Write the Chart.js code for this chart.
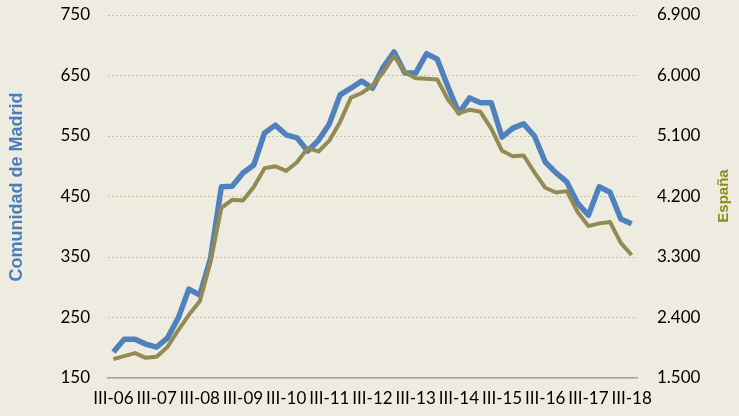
<!DOCTYPE html>
<html>
<head>
<meta charset="utf-8">
<script src="https://cdn.jsdelivr.net/npm/chart.js@4"></script>
<style>
  html, body { margin: 0; padding: 0; background: #eeece1; }
  canvas { display: block; }
</style>
</head>
<body>
<canvas id="myChart" width="739" height="416"></canvas>
<script>
const quarters = [
  'III-06','IV-06','I-07','II-07','III-07','IV-07','I-08','II-08','III-08','IV-08',
  'I-09','II-09','III-09','IV-09','I-10','II-10','III-10','IV-10','I-11','II-11',
  'III-11','IV-11','I-12','II-12','III-12','IV-12','I-13','II-13','III-13','IV-13',
  'I-14','II-14','III-14','IV-14','I-15','II-15','III-15','IV-15','I-16','II-16',
  'III-16','IV-16','I-17','II-17','III-17','IV-17','I-18','II-18','III-18'
];
// Comunidad de Madrid (left axis)
const madrid = [
  193, 214, 214, 206, 201, 216, 249, 297, 287, 348,
  466, 467, 489, 502, 555, 568, 552, 547, 525, 543,
  570, 618, 629, 641, 629, 664, 689, 654, 654, 686,
  677, 631, 588, 613, 605, 605, 548, 563, 570, 550,
  507, 489, 474, 439, 419, 466, 457, 413, 405
];
// España (right axis)
const espana = [
  1780, 1825, 1870, 1800, 1815, 1960, 2210, 2440, 2640, 3230,
  4030, 4150, 4140, 4340, 4620, 4650, 4580, 4710, 4920, 4870,
  5030, 5310, 5670, 5740, 5850, 6050, 6290, 6050, 5960, 5950,
  5940, 5640, 5440, 5490, 5460, 5210, 4880, 4800, 4810, 4560,
  4330, 4260, 4280, 3970, 3760, 3800, 3820, 3510, 3330
];

const blue = '#4f81bd';
const olive = '#948a54';

const axisTitles = {
  id: 'axisTitles',
  afterDraw(chart) {
    const ctx = chart.ctx;
    ctx.save();
    ctx.textAlign = 'center';
    ctx.textBaseline = 'middle';
    ctx.font = 'bold 18px "Liberation Sans", Arial, sans-serif';
    ctx.fillStyle = '#4a7ebb';
    ctx.translate(17, 187);
    ctx.rotate(-Math.PI / 2);
    ctx.fillText('Comunidad de Madrid', 0, 0);
    ctx.restore();
    ctx.save();
    ctx.textAlign = 'center';
    ctx.textBaseline = 'middle';
    ctx.font = 'bold 15px "Liberation Sans", Arial, sans-serif';
    ctx.fillStyle = '#8c8c1e';
    ctx.translate(724, 196);
    ctx.rotate(-Math.PI / 2);
    ctx.fillText('España', 0, 0);
    ctx.restore();
  }
};

const tickFont = { family: 'Lato, "Open Sans", sans-serif', size: 17 };

// fixed plot box like the original
function fitVertical(width) {
  return function (scale) {
    scale.width = width;
    scale.paddingTop = 15;
    scale.paddingBottom = 0;
  };
}

const data = {
  labels: quarters,
  datasets: [{
    label: 'Comunidad de Madrid',
    data: madrid,
    yAxisID: 'y',
    borderColor: blue,
    borderWidth: 5.5,
    pointRadius: 0,
    tension: 0,
    borderJoinStyle: 'round',
    order: 1
  }, {
    label: 'España',
    data: espana,
    yAxisID: 'y2',
    borderColor: olive,
    borderWidth: 4,
    pointRadius: 0,
    tension: 0,
    borderJoinStyle: 'round',
    order: 0
  }]
};

const config = {
  type: 'line',
  data: data,
  options: {
    responsive: false,
    animation: false,
    layout: { padding: 0 },
    plugins: { legend: { display: false }, tooltip: { enabled: false } },
    scales: {
      x: {
        offset: true,
        grid: { display: false, drawTicks: false },
        border: { display: true, color: '#a6a6a6', width: 1.5 },
        ticks: {
          color: '#000',
          font: tickFont,
          padding: 10,
          autoSkip: false,
          maxRotation: 0,
          callback: function (value, index) {
            return index % 4 === 0 ? quarters[index] : '';
          }
        },
        afterFit: function (scale) { scale.height = 38; }
      },
      y: {
        position: 'left',
        min: 150,
        max: 750,
        grid: { color: '#c9c3a6', lineWidth: 1, drawTicks: false },
        border: { display: false, dash: [2, 2] },
        ticks: { stepSize: 100, color: '#000', font: tickFont, padding: 18 },
        afterFit: fitVertical(108)
      },
      y2: {
        position: 'right',
        min: 1500,
        max: 6900,
        grid: { display: false, drawTicks: false },
        border: { display: false },
        ticks: {
          stepSize: 900,
          color: '#000',
          font: tickFont,
          padding: 20,
          callback: function (value) {
            return String(value).replace(/\B(?=(\d{3})+(?!\d))/g, '.');
          }
        },
        afterFit: fitVertical(102)
      }
    }
  },
  plugins: [axisTitles]
};

const myChart = new Chart(document.getElementById('myChart'), config);
</script>
</body>
</html>
